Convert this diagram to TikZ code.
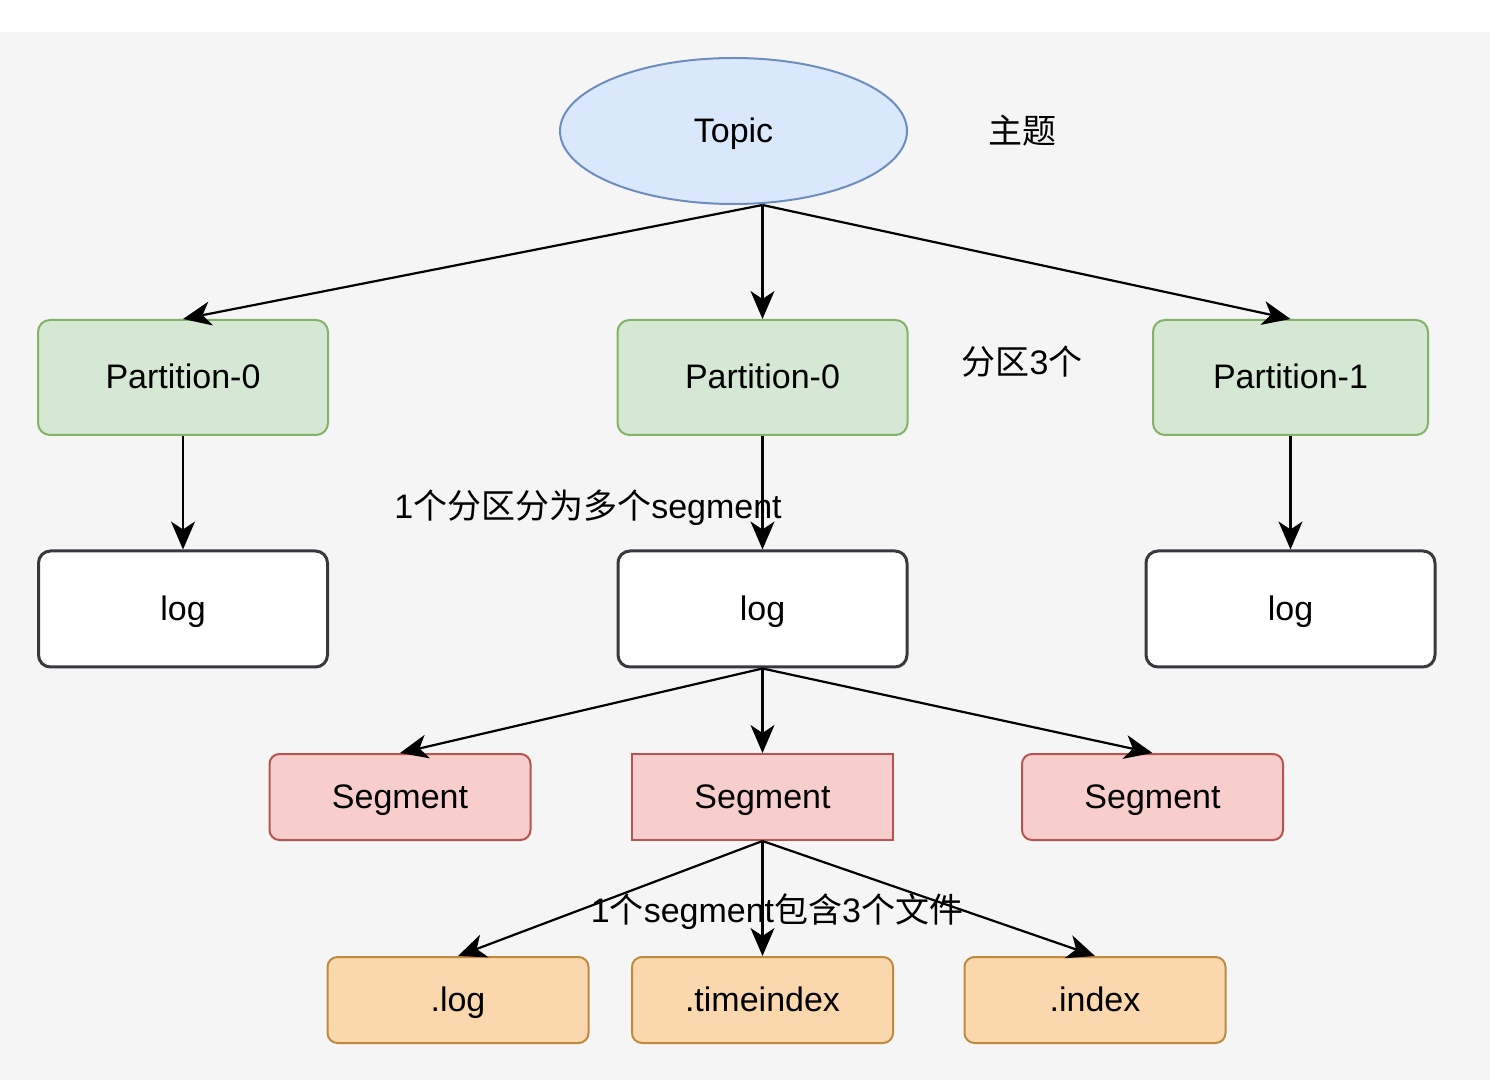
\documentclass[tikz,border=0pt]{standalone}
\usepackage{fontspec}
\setmainfont{Liberation Sans}
\newfontfamily\cjk{Noto Sans CJK SC}
\usetikzlibrary{positioning}
\usetikzlibrary{shapes.geometric}
\usetikzlibrary{arrows.meta}

\definecolor{bgGray}{HTML}{F5F5F5}
\definecolor{topicFill}{HTML}{DAE8FC}
\definecolor{topicLine}{HTML}{6C8EBF}
\definecolor{partFill}{HTML}{D5E8D4}
\definecolor{partLine}{HTML}{82B366}
\definecolor{logLine}{HTML}{36393D}
\definecolor{segFill}{HTML}{F8CECC}
\definecolor{segLine}{HTML}{B85450}
\definecolor{fileFill}{HTML}{FAD7AC}
\definecolor{fileLine}{HTML}{C08A3E}

\begin{document}
\begin{tikzpicture}[x=0.5pt, y=-0.5pt, on grid, font=\fontsize{17}{20}\selectfont]
		\tikzstyle{elem} = [text height=15pt, text depth=3.5pt, line width=1pt]
		\tikzstyle{topicElem} = [elem, ellipse, minimum width=173.5pt, minimum height=73pt, inner sep=0pt, fill=topicFill, draw=topicLine]
		\tikzstyle{part} = [elem, rectangle, rounded corners=6pt, minimum width=145pt, minimum height=57.5pt, fill=partFill, draw=partLine]
		\tikzstyle{logElem} = [elem, rectangle, rounded corners=6pt, minimum width=144.5pt, minimum height=58pt, fill=white, draw=logLine, line width=1.5pt]
		\tikzstyle{seg} = [elem, rectangle, rounded corners=5pt, minimum width=130.5pt, minimum height=43pt, fill=segFill, draw=segLine]
		\tikzstyle{file} = [elem, rectangle, rounded corners=5pt, minimum width=130.5pt, minimum height=43pt, fill=fileFill, draw=fileLine]
		\tikzstyle{note} = [inner sep=0pt]
		\tikzstyle{arrow} = [-{Stealth[length=14pt, width=12pt, inset=4pt]}, line width=1.1pt]

		\fill[white] (0,0) rectangle (1490,32);
		\fill[bgGray] (0,32) rectangle (1490,1080);
		\useasboundingbox (0,0) rectangle (1490,1080);

		\node (topic) [topicElem] at (733.5,131) {Topic};
		\node (topicNote) [note, right=144.25pt of topic] {\cjk 主题};

		\node (partMid) [part, below=123.25pt of topic, xshift=14.5pt] {Partition-0};
		\node (partLeft) [part, left=289.75pt of partMid] {Partition-0};
		\node (partRight) [part, right=264pt of partMid, minimum width=137.5pt] {Partition-1};
		\node (partNote) [note, right=129.75pt of partMid, yshift=7.75pt] {{\cjk 分区}3{\cjk 个}};

		\node (logMid) [logElem, below=115.75pt of partMid] {log};
		\node (logLeft) [logElem, left=289.75pt of logMid] {log};
		\node (logRight) [logElem, right=264pt of logMid] {log};

		\node (segMid) [seg, below=94pt of logMid, rounded corners=0pt] {Segment};
		\node (segLeft) [seg, left=181.25pt of segMid] {Segment};
		\node (segRight) [seg, right=195pt of segMid] {Segment};

		\node (fileMid) [file, below=101.5pt of segMid] {.timeindex};
		\node (fileLeft) [file, left=152.25pt of fileMid] {.log};
		\node (fileRight) [file, right=166.25pt of fileMid] {.index};

		\coordinate (topicOut) at ([xshift=14.5pt]topic.south);

		\draw [arrow] (topicOut) -- (partLeft.north);
		\draw [arrow] (topicOut) -- (partMid.north);
		\draw [arrow] (topicOut) -- (partRight.north);

		\draw [arrow] (partLeft) -- (logLeft);
		\draw [arrow] (partMid) -- (logMid);
		\draw [arrow] (partRight) -- (logRight);

		\draw [arrow] (logMid.south) -- (segLeft.north);
		\draw [arrow] (logMid.south) -- (segMid.north);
		\draw [arrow] (logMid.south) -- (segRight.north);

		\draw [arrow] (segMid.south) -- (fileLeft.north);
		\draw [arrow] (segMid.south) -- (fileMid.north);
		\draw [arrow] (segMid.south) -- (fileRight.north);

		\node (segNote) [note, left=87.25pt of logMid, yshift=50.5pt] {1{\cjk 个分区分为多个}segment};
		\node (fileNote) [note, right=7.25pt of fileMid, yshift=44pt] {1{\cjk 个}segment{\cjk 包含}3{\cjk 个文件}};
	\end{tikzpicture}
\end{document}
